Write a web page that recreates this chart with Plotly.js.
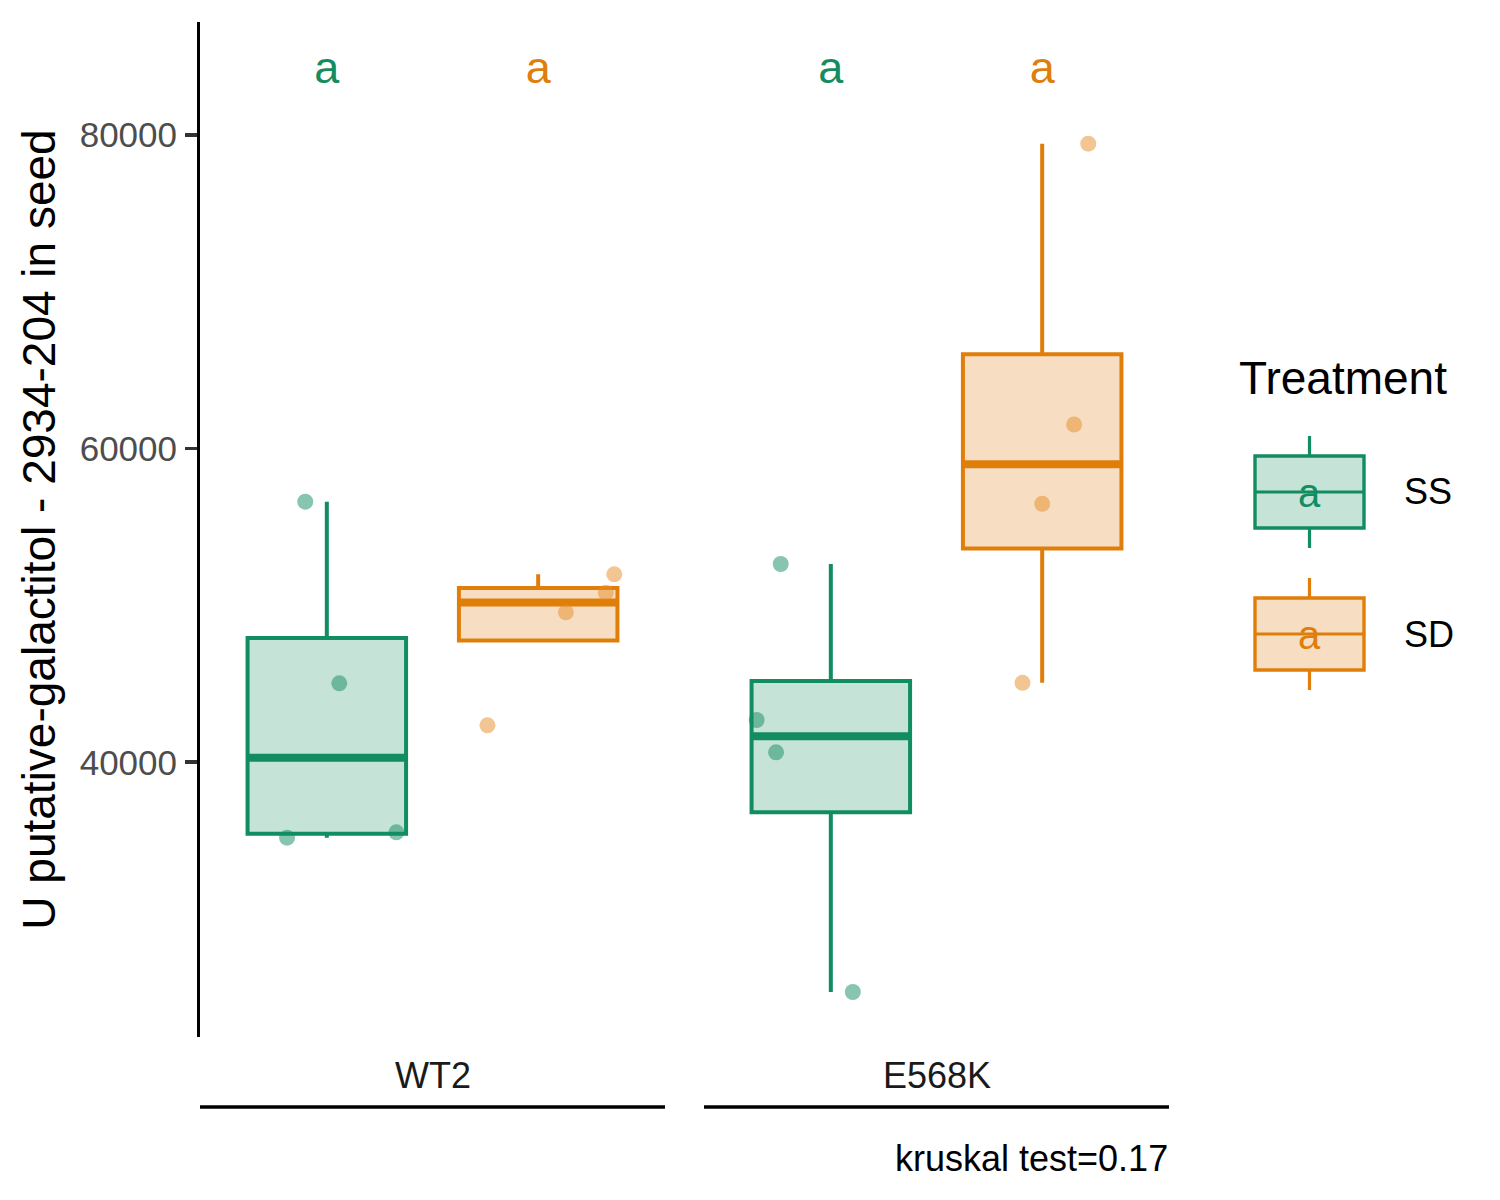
<!DOCTYPE html>
<html>
<head>
<meta charset="utf-8">
<script src="https://cdn.plot.ly/plotly-3.0.1.min.js"></script>
<style>html,body{margin:0;padding:0;background:#fff;}</style>
</head>
<body>
<div id="chart" style="width:1500px;height:1200px;"></div>
<script>
// ---- data ----
const genotypes = ['WT2', 'E568K'];
const treatments = ['SS', 'SD'];
const wt2_ss = [56616, 45037, 35537, 35192];
const wt2_sd = [51987, 50814, 49564, 42359];
const e568k_ss = [52644, 42697, 40638, 25354];
const e568k_sd = [79442, 61538, 56482, 45069];
// horizontal jitter of each point (category units)
const wt2_ss_jit = [-0.102, 0.059, 0.329, -0.188];
const wt2_sd_jit = [0.360, 0.320, 0.131, -0.240];
const e568k_ss_jit = [-0.237, -0.351, -0.259, 0.104];
const e568k_sd_jit = [0.218, 0.151, 0.000, -0.093];
const letters_wt2 = ['a', 'a'];
const letters_e568k = ['a', 'a'];
const yTicks = [40000, 60000, 80000];
const yLabel = 'U putative-galactitol - 2934-204 in seed';
const legendTitle = 'Treatment';
const caption = 'kruskal test=0.17';

// ---- styling ----
const FONT = 'Liberation Sans, Arial, Helvetica, sans-serif';
const lineCol = {SS: '#128C61', SD: '#E07E0A'};
const fillCol = {SS: '#C6E3D8', SD: '#F7DEC3'};
const ptCol = {SS: 'rgba(18,140,97,0.5)', SD: 'rgba(232,140,40,0.5)'};
const W = 1500, H = 1200;
const px = v => v / W, py = v => 1 - v / H;
const BOXW = 0.75;
const LABEL_Y = 84000;

const groups = [
  {g: 0, axis: 'x', vals: [wt2_ss, wt2_sd], jit: [wt2_ss_jit, wt2_sd_jit], letters: letters_wt2},
  {g: 1, axis: 'x2', vals: [e568k_ss, e568k_sd], jit: [e568k_ss_jit, e568k_sd_jit], letters: letters_e568k}
];

function q7(s, p) {
  const h = (s.length - 1) * p, lo = Math.floor(h);
  const hi = Math.min(lo + 1, s.length - 1);
  return s[lo] + (h - lo) * (s[hi] - s[lo]);
}
function stats(v) {
  const s = v.slice().sort((a, b) => a - b);
  const q1 = q7(s, 0.25), med = q7(s, 0.5), q3 = q7(s, 0.75);
  const iqr = q3 - q1;
  const inside = s.filter(x => x >= q1 - 1.5 * iqr && x <= q3 + 1.5 * iqr);
  const ymin = Math.min(...inside), ymax = Math.max(...inside);
  return {q1, med, q3, lo: Math.min(ymin, q1), hi: Math.max(ymax, q3)};
}

const boxes = [], medians = [], points = [], labels = [];
groups.forEach(G => {
  treatments.forEach((t, ti) => {
    const st = stats(G.vals[ti]);
    boxes.push({
      type: 'box', xaxis: G.axis, yaxis: 'y',
      x: [ti], q1: [st.q1], median: [st.med], q3: [st.q3],
      lowerfence: [st.lo], upperfence: [st.hi],
      width: BOXW, whiskerwidth: 0, boxpoints: false,
      line: {color: lineCol[t], width: 4}, fillcolor: fillCol[t],
      showlegend: false, hoverinfo: 'skip'
    });
    medians.push({
      type: 'scatter', mode: 'lines', xaxis: G.axis, yaxis: 'y',
      x: [ti - BOXW / 2, ti + BOXW / 2], y: [st.med, st.med],
      line: {color: lineCol[t], width: 8}, showlegend: false, hoverinfo: 'skip'
    });
    points.push({
      type: 'scatter', mode: 'markers', xaxis: G.axis, yaxis: 'y',
      x: G.jit[ti].map(j => ti + j), y: G.vals[ti],
      marker: {color: ptCol[t], size: 16, line: {width: 0}},
      showlegend: false, hoverinfo: 'skip', cliponaxis: false
    });
    labels.push({
      type: 'scatter', mode: 'text', xaxis: G.axis, yaxis: 'y',
      x: [ti], y: [LABEL_Y], text: [G.letters[ti]], textposition: 'middle center',
      textfont: {family: FONT, size: 45, color: lineCol[t]},
      showlegend: false, hoverinfo: 'skip', cliponaxis: false
    });
  });
});

// ---- manual legend (ggplot-style keys) ----
const shapes = [];
const annotations = [];
const keys = [{t: 'SS', top: 456, bot: 528, wt: 436, wb: 548}, {t: 'SD', top: 598, bot: 670, wt: 578, wb: 690}];
const kx0 = 1255, kx1 = 1364, kxc = (kx0 + kx1) / 2;
keys.forEach(k => {
  const mid = (k.top + k.bot) / 2;
  shapes.push({type: 'line', xref: 'paper', yref: 'paper', x0: px(kxc), x1: px(kxc), y0: py(k.wt), y1: py(k.top), line: {color: lineCol[k.t], width: 3.2}});
  shapes.push({type: 'line', xref: 'paper', yref: 'paper', x0: px(kxc), x1: px(kxc), y0: py(k.bot), y1: py(k.wb), line: {color: lineCol[k.t], width: 3.2}});
  shapes.push({type: 'rect', xref: 'paper', yref: 'paper', x0: px(kx0), x1: px(kx1), y0: py(k.bot), y1: py(k.top), fillcolor: fillCol[k.t], line: {color: lineCol[k.t], width: 3.4}});
  shapes.push({type: 'line', xref: 'paper', yref: 'paper', x0: px(kx0), x1: px(kx1), y0: py(mid), y1: py(mid), line: {color: lineCol[k.t], width: 3}});
  annotations.push({xref: 'paper', yref: 'paper', x: px(kxc), y: py(mid + 1), text: 'a', showarrow: false, xanchor: 'center', yanchor: 'middle', font: {family: FONT, size: 40, color: lineCol[k.t]}});
  annotations.push({xref: 'paper', yref: 'paper', x: px(1402), y: py(mid), text: k.t, showarrow: false, xanchor: 'left', yanchor: 'middle', font: {family: FONT, size: 36, color: '#000000'}});
});
annotations.push({xref: 'paper', yref: 'paper', x: px(1237), y: py(378), text: legendTitle, showarrow: false, xanchor: 'left', yanchor: 'middle', font: {family: FONT, size: 46, color: '#000000'}});

// ---- strips under panels ----
['x', 'x2'].forEach((ax, i) => {
  shapes.push({type: 'line', xref: ax + ' domain', yref: 'paper', x0: 0, x1: 1, y0: py(1107), y1: py(1107), line: {color: '#000000', width: 3.5}});
  annotations.push({xref: ax + ' domain', yref: 'paper', x: 0.5, y: py(1075), text: genotypes[i], showarrow: false, xanchor: 'center', yanchor: 'middle', font: {family: FONT, size: 36, color: '#1A1A1A'}});
});
annotations.push({xref: 'paper', yref: 'paper', x: px(1170), y: py(1158), text: caption, showarrow: false, xanchor: 'right', yanchor: 'middle', font: {family: FONT, size: 36, color: '#000000'}});

const xCommon = {range: [-0.6, 1.6], showline: false, showticklabels: false, showgrid: false, zeroline: false, ticks: '', fixedrange: true};
const layout = {
  width: W, height: H,
  margin: {l: 0, r: 0, t: 0, b: 0, pad: 0},
  paper_bgcolor: '#ffffff', plot_bgcolor: '#ffffff',
  showlegend: false,
  xaxis: Object.assign({domain: [px(200), px(665)], anchor: 'y'}, xCommon),
  xaxis2: Object.assign({domain: [px(704), px(1169)], anchor: 'y'}, xCommon),
  yaxis: {
    domain: [py(1037), py(22)], range: [22485, 87201], anchor: 'x',
    tickvals: yTicks, ticktext: yTicks.map(String),
    showgrid: false, zeroline: false,
    showline: true, linecolor: '#000000', linewidth: 3,
    ticks: 'outside', ticklen: 12, tickwidth: 3.6, tickcolor: '#333333',
    ticklabelstandoff: 1,
    tickfont: {family: FONT, size: 35, color: '#4D4D4D'},
    title: {text: yLabel, font: {family: FONT, size: 46, color: '#000000'}, standoff: 10},
    automargin: false
  },
  shapes: shapes,
  annotations: annotations
};

Plotly.newPlot('chart', boxes.concat(medians, points, labels), layout, {staticPlot: true, displayModeBar: false});
</script>
</body>
</html>
